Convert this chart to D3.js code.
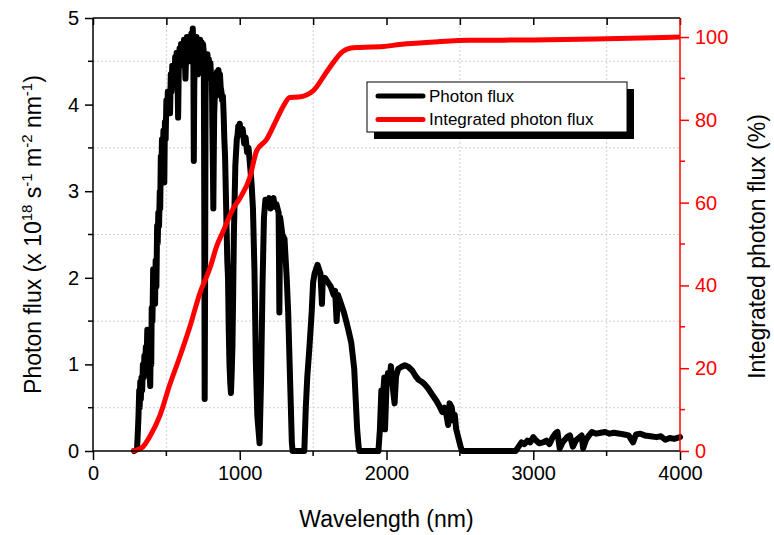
<!DOCTYPE html>
<html>
<head>
<meta charset="utf-8">
<script src="https://cdn.jsdelivr.net/npm/d3@7/dist/d3.min.js"></script>
<style>
  body { margin: 0; background: #fff; }
  svg text { font-family: Arial, "Liberation Sans", sans-serif; }
  .grid line { stroke: #d0d0d0; stroke-dasharray: 2,2; }
</style>
</head>
<body>
<div id="chart"></div>
<script>
// photon flux spectrum (nm, x10^18 s-1 m-2 nm-1)
const wavelength = [280,300,305,310,315,318,322,326,330,335,340,345,350,355,360,365,370,375,380,385,390,393,397,400,405,410,415,420,423,427,432,437,441,445,450,455,458,462,466,470,475,480,486,490,495,500,505,510,515,520,525,530,535,540,545,550,555,560,565,570,575,580,585,590,595,600,605,610,615,620,625,630,635,640,645,650,655,660,665,670,675,680,684,687,690,695,700,705,710,715,720,725,730,735,740,745,750,755,758,761,764,767,770,775,780,785,790,795,800,805,810,813,817,820,823,826,830,835,840,845,850,855,860,865,870,875,880,885,890,895,900,905,910,915,920,925,930,935,940,945,950,955,960,965,970,975,980,985,990,995,1000,1010,1020,1030,1040,1050,1060,1070,1080,1090,1100,1110,1120,1135,1145,1155,1165,1175,1190,1200,1210,1220,1230,1240,1250,1265,1270,1275,1290,1305,1320,1330,1345,1355,1360,1440,1450,1460,1475,1490,1500,1510,1520,1530,1540,1550,1560,1565,1580,1600,1620,1640,1650,1660,1670,1690,1710,1725,1740,1760,1780,1790,1800,1810,1815,1945,1955,1965,1975,1985,1990,2000,2010,2020,2030,2045,2055,2065,2080,2100,2125,2150,2175,2200,2220,2240,2260,2280,2300,2320,2340,2360,2380,2395,2410,2420,2430,2445,2455,2465,2475,2490,2505,2515,2880,2900,2920,2940,2960,2980,3000,3020,3040,3066,3090,3110,3130,3150,3165,3180,3200,3230,3250,3270,3290,3310,3330,3340,3360,3380,3400,3430,3460,3490,3520,3550,3590,3620,3650,3680,3700,3730,3760,3800,3840,3870,3900,3930,3960,4000]
const photonFlux = [0,0.02,0.2,0.4,0.7,0.5,0.8,0.6,0.85,0.7,1.0,0.85,1.1,0.95,1.2,1.05,1.4,1.15,1.3,0.9,0.75,1.2,1.0,1.65,1.5,2.1,1.8,2.05,1.7,2.2,1.9,2.6,2.4,2.75,2.6,3.0,2.8,3.4,3.2,3.6,3.4,3.7,3.1,3.8,3.6,4.05,3.9,4.15,3.95,4.1,3.9,4.35,4.15,4.45,4.25,4.4,4.3,4.55,4.35,4.6,4.4,3.85,4.5,4.65,4.45,4.7,4.5,4.65,4.45,4.75,4.55,4.3,4.6,4.78,4.55,4.72,4.5,4.65,4.5,4.82,4.6,4.88,4.5,3.35,4.2,4.7,4.5,4.78,4.55,4.35,4.55,4.4,4.75,4.55,4.72,4.5,4.7,4.6,3.0,0.6,2.0,4.0,4.5,4.35,4.58,4.4,4.52,4.35,4.48,4.3,4.35,3.8,3.3,2.8,3.4,3.9,4.1,4.25,4.1,4.38,4.25,4.4,4.3,4.35,4.2,4.15,4.05,4.1,3.9,3.6,3.4,3.0,2.6,2.2,2.0,1.4,1.0,0.8,0.67,0.9,1.2,1.8,2.5,2.9,3.3,3.45,3.6,3.65,3.75,3.7,3.78,3.65,3.72,3.55,3.62,3.45,3.5,3.3,3.1,2.8,2.1,1.0,0.4,0.09,0.8,1.9,2.7,2.9,2.85,2.92,2.8,2.9,2.92,2.82,2.85,2.75,1.6,2.7,2.5,2.45,2.0,1.6,0.7,0.1,0,0,0.5,0.85,1.2,1.6,1.95,2.05,2.1,2.15,2.1,2.05,1.7,1.95,2.0,1.95,1.9,1.8,1.85,1.5,1.8,1.7,1.6,1.5,1.4,1.25,0.95,0.6,0.25,0.05,0,0,0.25,0.7,0.6,0.85,0.25,0.75,0.9,0.8,0.98,0.7,0.55,0.86,0.95,0.97,0.99,0.97,0.93,0.86,0.82,0.8,0.77,0.73,0.68,0.63,0.58,0.52,0.45,0.5,0.4,0.3,0.55,0.5,0.35,0.42,0.25,0.15,0.05,0,0,0.05,0.1,0.08,0.12,0.1,0.16,0.12,0.09,0.1,0.12,0.08,0.15,0.2,0.22,0.03,0.1,0.16,0.18,0.05,0.12,0.15,0.18,0.03,0.13,0.18,0.22,0.2,0.21,0.22,0.2,0.21,0.2,0.19,0.18,0.1,0.19,0.2,0.18,0.17,0.16,0.17,0.13,0.15,0.14,0.16]

// integrated photon flux (%)
const intWavelength = [265,300,340,387,455,523,591,660,727,800,843,886,954,1000,1068,1115,1182,1250,1300,1341,1400,1455,1500,1600,1702,1750,1818,1977,2090,2364,2568,3000,3500,4000]
const intFlux = [0,0.3,1,3.5,8.5,16,22.7,30,38,44.5,49.5,53,58.5,61,66,72.5,75.2,80,83.5,85.4,85.5,86,87,92,96.5,97.3,97.5,97.7,98.2,98.9,99.2,99.3,99.6,100]

const leftTicks = [0, 1, 2, 3, 4, 5]
const rightTicks = [0, 20, 40, 60, 80, 100]
const xTicks = [0, 1000, 2000, 3000, 4000]

const W = 774, H = 535
const m = { left: 93, right: 94, top: 18, bottom: 84 }
const pw = W - m.left - m.right, ph = H - m.top - m.bottom

const svg = d3.select('#chart').append('svg')
  .attr('width', W)
  .attr('height', H)

const x = d3.scaleLinear().domain([0, 4000]).range([m.left, m.left + pw])
const y = d3.scaleLinear().domain([0, 5]).range([m.top + ph, m.top])
const y2 = d3.scaleLinear().domain([0, 104.6]).range([m.top + ph, m.top])

// grid at the minor positions
const grid = svg.append('g').attr('class', 'grid')
grid.selectAll('.gx')
  .data(d3.range(500, 4000, 1000))
  .enter().append('line')
  .attr('x1', d => x(d)).attr('x2', d => x(d))
  .attr('y1', m.top).attr('y2', m.top + ph)
grid.selectAll('.gy')
  .data(d3.range(0.5, 5, 1))
  .enter().append('line')
  .attr('x1', m.left).attr('x2', m.left + pw)
  .attr('y1', d => y(d)).attr('y2', d => y(d))

// data lines
const spectrum = wavelength.map((w, i) => [w, photonFlux[i]])
const integrated = intWavelength.map((w, i) => [w, intFlux[i]])

svg.append('path')
  .datum(spectrum)
  .attr('fill', 'none')
  .attr('stroke', '#000')
  .attr('stroke-width', 6)
  .attr('stroke-linejoin', 'round')
  .attr('stroke-linecap', 'round')
  .attr('d', d3.line().x(d => x(d[0])).y(d => y(d[1])))

svg.append('path')
  .datum(integrated)
  .attr('fill', 'none')
  .attr('stroke', '#ff0000')
  .attr('stroke-width', 5)
  .attr('stroke-linejoin', 'round')
  .attr('d', d3.line().curve(d3.curveMonotoneX).x(d => x(d[0])).y(d => y2(d[1])))

// axes
const fmt = d3.format('d')
const bottomAxis = svg.append('g')
  .attr('transform', `translate(0,${m.top + ph})`)
  .call(d3.axisBottom(x).tickValues(xTicks).tickFormat(fmt).tickSize(9).tickPadding(6))
bottomAxis.append('g').selectAll('line')
  .data(d3.range(500, 4000, 1000))
  .enter().append('line')
  .attr('x1', d => x(d)).attr('x2', d => x(d))
  .attr('y1', 0).attr('y2', 5)
  .attr('stroke', '#000')

const topAxis = svg.append('g')
  .attr('transform', `translate(0,${m.top})`)
  .call(d3.axisBottom(x).tickValues(d3.range(0, 4001, 500)).tickFormat('').tickSize(7))

const leftAxis = svg.append('g')
  .attr('transform', `translate(${m.left},0)`)
  .call(d3.axisLeft(y).tickValues(leftTicks).tickFormat(fmt).tickSize(8).tickPadding(6))
leftAxis.append('g').selectAll('line')
  .data(d3.range(0.5, 5, 1))
  .enter().append('line')
  .attr('y1', d => y(d)).attr('y2', d => y(d))
  .attr('x1', 0).attr('x2', -5)
  .attr('stroke', '#000')

const rightAxis = svg.append('g')
  .attr('transform', `translate(${m.left + pw},0)`)
  .call(d3.axisRight(y2).tickValues(rightTicks).tickFormat(fmt).tickSize(9).tickPadding(6))
rightAxis.append('g').selectAll('line')
  .data(d3.range(10, 100, 20))
  .enter().append('line')
  .attr('y1', d => y2(d)).attr('y2', d => y2(d))
  .attr('x1', 0).attr('x2', 5)
rightAxis.selectAll('line').attr('stroke', '#ff0000')
rightAxis.select('.domain').attr('stroke', '#ff0000')
rightAxis.selectAll('text').attr('fill', '#ff0000')

for (const a of [bottomAxis, topAxis, leftAxis, rightAxis]) {
  a.selectAll('text').style('font-size', '20px')
  a.selectAll('line, .domain').attr('stroke-width', 1.5)
}
leftAxis.select('.domain').attr('d', `M0,${m.top}V${m.top + ph}`)
bottomAxis.select('.domain').attr('d', `M${m.left},0H${m.left + pw}`)
topAxis.select('.domain').attr('d', `M${m.left},0H${m.left + pw}`)
rightAxis.select('.domain').attr('d', `M0,${m.top}V${m.top + ph}`)

// titles
svg.append('text')
  .attr('x', m.left + pw / 2)
  .attr('y', 527)
  .attr('text-anchor', 'middle')
  .style('font-size', '23px')
  .text('Wavelength (nm)')

const lt = svg.append('text')
  .attr('transform', `translate(41,${m.top + ph / 2}) rotate(-90)`)
  .attr('text-anchor', 'middle')
  .style('font-size', '23px')
lt.append('tspan').text('Photon flux (x 10')
lt.append('tspan').attr('dy', -9).style('font-size', '15px').text('18')
lt.append('tspan').attr('dy', 9).text(' s')
lt.append('tspan').attr('dy', -9).style('font-size', '15px').text('-1')
lt.append('tspan').attr('dy', 9).text(' m')
lt.append('tspan').attr('dy', -9).style('font-size', '15px').text('-2')
lt.append('tspan').attr('dy', 9).text(' nm')
lt.append('tspan').attr('dy', -9).style('font-size', '15px').text('-1')
lt.append('tspan').attr('dy', 9).text(')')

svg.append('text')
  .attr('transform', `translate(765,${m.top + ph / 2 + 12}) rotate(-90)`)
  .attr('text-anchor', 'middle')
  .style('font-size', '23px')
  .text('Integrated photon flux (%)')

// legend
const lg = svg.append('g').attr('transform', 'translate(367,82)')
lg.append('rect')
  .attr('x', 7).attr('y', 7).attr('width', 260).attr('height', 50)
  .attr('fill', '#000')
lg.append('rect')
  .attr('width', 260).attr('height', 50)
  .attr('fill', '#fff').attr('stroke', '#000')
const items = [['Photon flux', '#000'], ['Integrated photon flux', '#ff0000']]
items.forEach(([label, color], i) => {
  lg.append('line')
    .attr('x1', 11).attr('x2', 56)
    .attr('y1', 14 + i * 23.5).attr('y2', 14 + i * 23.5)
    .attr('stroke', color).attr('stroke-width', 5)
    .attr('stroke-linecap', 'round')
  lg.append('text')
    .attr('x', 62).attr('y', 14 + i * 23.5)
    .attr('dy', '0.35em')
    .style('font-size', '17px')
    .text(label)
})
</script>
</body>
</html>
